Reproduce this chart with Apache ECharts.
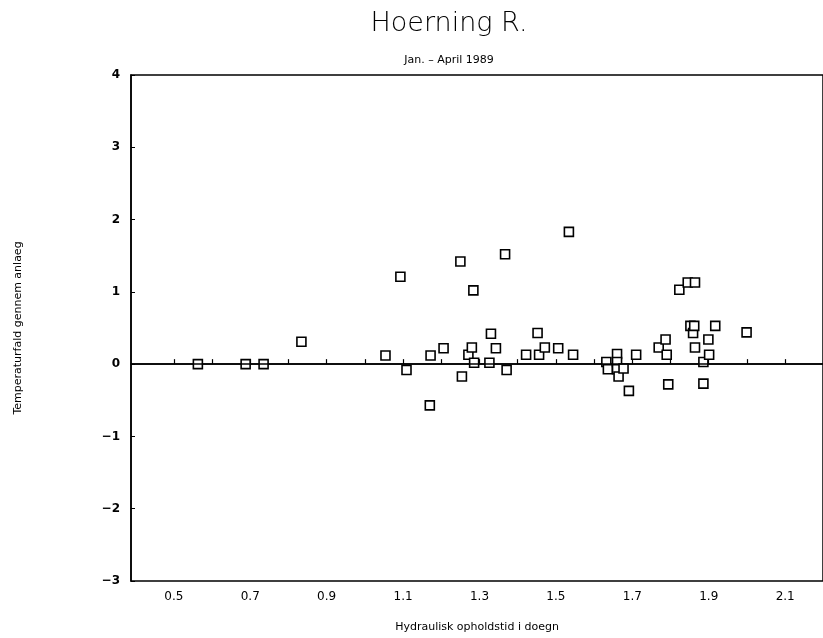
<!DOCTYPE html>
<html>
<head>
<meta charset="utf-8">
<title>Hoerning R.</title>
<script src="https://cdn.jsdelivr.net/npm/echarts@6/dist/echarts.min.js"></script>
<style>
  html, body { margin: 0; padding: 0; background: #fff; }
  #main { width: 823px; height: 638px; }
</style>
</head>
<body>
<div id="main"></div>
<script>
// opholdstid (doegn) og temperaturfald, aflaest fra figuren
var opholdstid = [
  0.563, 0.688, 0.735, 0.834,
  1.054, 1.093, 1.109, 1.170, 1.172, 1.206, 1.250, 1.254, 1.271, 1.280,
  1.284, 1.286, 1.326, 1.330, 1.343, 1.367, 1.371, 1.422, 1.452, 1.456,
  1.471, 1.506, 1.534, 1.545,
  1.632, 1.636, 1.660, 1.660, 1.660, 1.664, 1.677, 1.691, 1.710,
  1.769, 1.787, 1.790, 1.794, 1.823, 1.845, 1.852, 1.859, 1.862, 1.864,
  1.864, 1.886, 1.886, 1.899, 1.901, 1.917, 1.999
];
var temperaturfald = [
  0, 0, 0, 0.31,
  0.12, 1.21, -0.08, -0.57, 0.12, 0.22, 1.42, -0.17, 0.13, 0.23,
  1.02, 0.02, 0.02, 0.42, 0.22, 1.52, -0.08, 0.13, 0.43, 0.13,
  0.23, 0.22, 1.83, 0.13,
  0.03, -0.07, 0.14, 0.03, -0.07, -0.17, -0.06, -0.37, 0.13,
  0.23, 0.34, 0.13, -0.28, 1.03, 1.13, 0.53, 0.43, 0.53, 1.13,
  0.23, 0.03, -0.27, 0.34, 0.13, 0.53, 0.44
];
var xTicks = [0.5, 0.6, 0.7, 0.8, 0.9, 1.0, 1.1, 1.2, 1.3, 1.4, 1.5, 1.6, 1.7, 1.8, 1.9, 2.0, 2.1];
var xLabels = [0.5, 0.7, 0.9, 1.1, 1.3, 1.5, 1.7, 1.9, 2.1];

var points = opholdstid.map(function (x, i) { return [x, temperaturfald[i]]; });

var myChart = echarts.init(document.getElementById('main'));
myChart.setOption({
  animation: false,
  backgroundColor: '#fff',
  textStyle: { fontFamily: 'DejaVu Sans', color: '#000' },
  title: [
    {
      text: 'Hoerning R.',
      left: 444, top: 5, textAlign: 'center',
      textStyle: { fontSize: 27, fontWeight: 'lighter', color: '#000', fontFamily: 'DejaVu Sans' }
    },
    {
      text: 'Jan. \u2013 April 1989',
      left: 444, top: 50, textAlign: 'center',
      textStyle: { fontSize: 11, fontWeight: 'normal', color: '#000', fontFamily: 'DejaVu Sans' }
    }
  ],
  grid: {
    left: 131, right: -3, top: 75, bottom: 56,
    show: true, borderColor: '#000', borderWidth: 1.5
  },
  xAxis: {
    type: 'value',
    min: 0.388, max: 2.199,
    name: 'Hydraulisk opholdstid i doegn',
    nameLocation: 'middle', nameGap: 41,
    nameTextStyle: { fontSize: 11, color: '#000', align: 'center' },
    axisLine: { lineStyle: { color: '#000', width: 1.5 } },
    axisTick: { inside: true, length: 5, lineStyle: { color: '#000', width: 1.2 }, customValues: xTicks },
    axisLabel: {
      color: '#000', fontSize: 12, margin: 10, customValues: xLabels,
      formatter: function (v) { return v.toFixed(1); }
    },
    splitLine: { show: false }
  },
  yAxis: {
    type: 'value',
    min: -3, max: 4, interval: 1,
    name: 'Temperaturfald gennem anlaeg',
    nameLocation: 'middle', nameGap: 107,
    nameTextStyle: { fontSize: 11, color: '#000' },
    axisLine: { lineStyle: { color: '#000', width: 1.5 } },
    axisTick: { inside: true, length: 4, lineStyle: { color: '#000' } },
    axisLabel: {
      color: '#000', fontSize: 12, fontWeight: 'bold', margin: 11,
      formatter: function (v) { return v < 0 ? '\u2212' + Math.abs(v) : String(v); }
    },
    splitLine: { show: false }
  },
  series: [{
    type: 'scatter',
    data: points,
    symbol: 'rect',
    symbolSize: 9,
    itemStyle: { color: '#fff', borderColor: '#000', borderWidth: 1.6, opacity: 1 },
    markLine: {
      silent: true, symbol: 'none', label: { show: false },
      lineStyle: { color: '#000', type: 'solid', width: 1.5 },
      data: [{ yAxis: 0 }]
    },
    z: 3
  }]
});
</script>
</body>
</html>
